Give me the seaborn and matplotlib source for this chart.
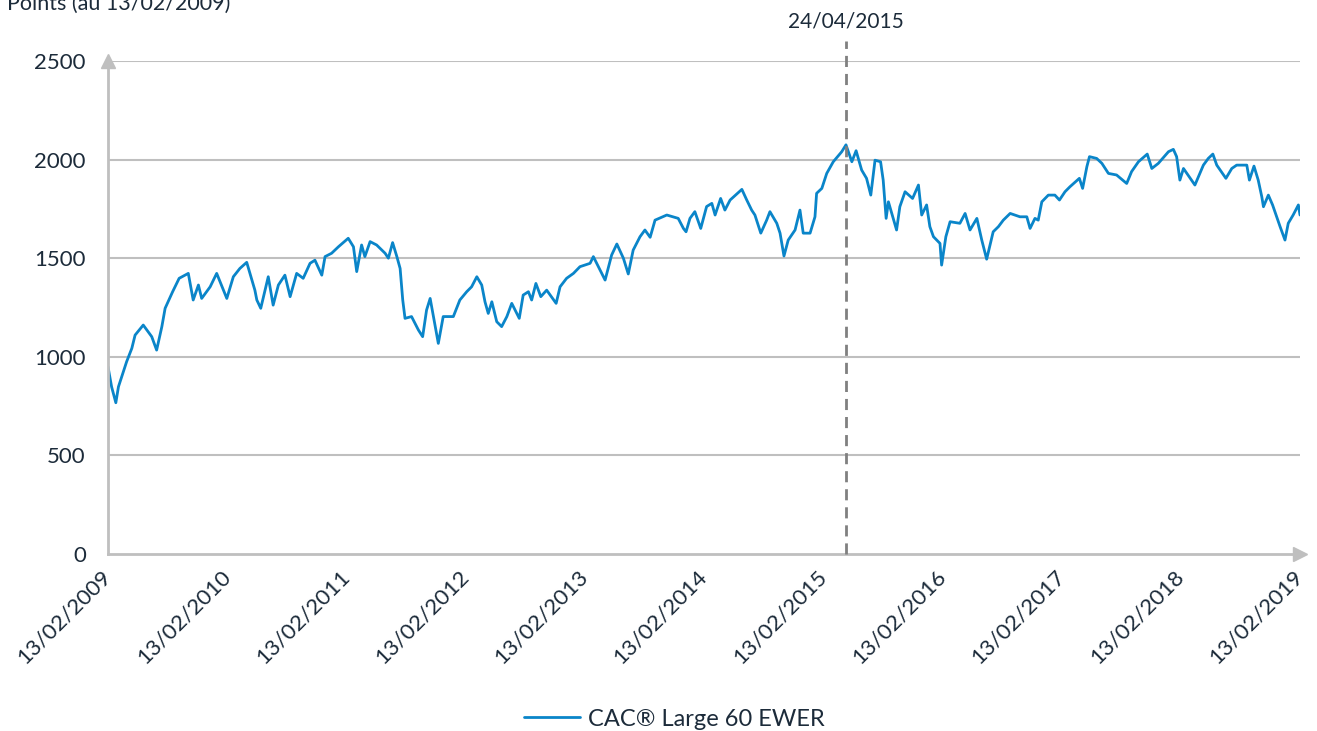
import numpy as np
import pandas as pd
import matplotlib.pyplot as plt
import matplotlib.dates as mdates
import seaborn as sns

# valeurs (points de l'indice, base 13/02/2009)
dates = ["2009-02-13", "2009-02-24", "2009-03-09", "2009-03-17", "2009-03-27", "2009-04-11",
         "2009-04-27", "2009-05-07", "2009-06-01", "2009-06-27", "2009-07-12", "2009-07-28",
         "2009-08-07", "2009-08-30", "2009-09-19", "2009-10-17", "2009-11-01", "2009-11-17",
         "2009-11-27", "2009-12-23", "2010-01-12", "2010-02-12", "2010-03-04", "2010-03-24",
         "2010-04-14", "2010-05-09", "2010-05-15", "2010-05-27", "2010-06-19", "2010-07-04",
         "2010-07-20", "2010-08-09", "2010-08-25", "2010-09-14", "2010-10-04", "2010-10-25",
         "2010-11-09", "2010-11-30", "2010-12-10", "2010-12-30", "2011-01-20", "2011-02-19",
         "2011-03-07", "2011-03-17", "2011-04-01", "2011-04-11", "2011-04-27", "2011-05-17",
         "2011-06-12", "2011-06-22", "2011-07-05", "2011-07-18", "2011-07-28", "2011-08-05",
         "2011-08-12", "2011-09-01", "2011-09-22", "2011-10-05", "2011-10-17", "2011-10-28",
         "2011-11-22", "2011-12-07", "2012-01-07", "2012-01-27", "2012-02-17", "2012-03-03",
         "2012-03-19", "2012-04-03", "2012-04-13", "2012-04-23", "2012-05-04", "2012-05-19",
         "2012-06-03", "2012-06-19", "2012-07-04", "2012-07-27", "2012-08-08", "2012-08-24",
         "2012-09-03", "2012-09-16", "2012-10-01", "2012-10-19", "2012-11-17", "2012-11-29",
         "2012-12-19", "2013-01-09", "2013-01-29", "2013-03-01", "2013-03-11", "2013-04-16",
         "2013-05-06", "2013-05-22", "2013-06-11", "2013-06-26", "2013-07-11", "2013-08-01",
         "2013-08-16", "2013-09-01", "2013-09-16", "2013-10-22", "2013-11-26", "2013-12-12",
         "2013-12-20", "2014-01-01", "2014-01-16", "2014-02-03", "2014-02-21", "2014-03-09",
         "2014-03-19", "2014-04-05", "2014-04-18", "2014-05-04", "2014-06-09", "2014-06-24",
         "2014-07-09", "2014-07-19", "2014-08-06", "2014-08-24", "2014-09-03", "2014-09-24",
         "2014-10-04", "2014-10-16", "2014-10-29", "2014-11-19", "2014-12-04", "2014-12-14",
         "2015-01-04", "2015-01-19", "2015-01-24", "2015-02-09", "2015-02-24", "2015-03-16",
         "2015-04-11", "2015-04-24", "2015-05-12", "2015-05-25", "2015-06-11", "2015-06-26",
         "2015-07-09", "2015-07-22", "2015-08-08", "2015-08-16", "2015-08-25", "2015-09-01",
         "2015-09-26", "2015-10-06", "2015-10-22", "2015-11-14", "2015-12-02", "2015-12-12",
         "2015-12-27", "2016-01-06", "2016-01-17", "2016-02-06", "2016-02-11", "2016-02-24",
         "2016-03-08", "2016-04-07", "2016-04-23", "2016-05-08", "2016-05-29", "2016-06-13",
         "2016-06-28", "2016-07-18", "2016-08-03", "2016-08-18", "2016-09-08", "2016-10-08",
         "2016-10-29", "2016-11-08", "2016-11-23", "2016-12-03", "2016-12-14", "2017-01-03",
         "2017-01-23", "2017-02-06", "2017-02-23", "2017-03-10", "2017-04-08", "2017-04-18",
         "2017-05-01", "2017-05-09", "2017-05-31", "2017-06-16", "2017-07-06", "2017-07-31",
         "2017-08-31", "2017-09-15", "2017-10-06", "2017-11-02", "2017-11-16", "2017-12-06",
         "2018-01-06", "2018-01-21", "2018-01-31", "2018-02-10", "2018-02-21", "2018-03-28",
         "2018-04-23", "2018-05-08", "2018-05-22", "2018-06-03", "2018-07-01", "2018-07-19",
         "2018-08-03", "2018-09-03", "2018-09-11", "2018-09-25", "2018-10-08", "2018-10-19",
         "2018-10-24", "2018-11-08", "2018-11-21", "2018-12-14", "2018-12-29", "2019-01-08",
         "2019-01-23", "2019-02-08", "2019-02-13"]
points = [950, 848, 767, 848, 899, 975, 1043, 1110, 1161, 1102, 1034, 1153,
          1246, 1330, 1398, 1423, 1288, 1364, 1296, 1355, 1423, 1296, 1406, 1448,
          1479, 1338, 1288, 1246, 1406, 1262, 1364, 1414, 1305, 1423, 1398, 1474,
          1490, 1414, 1508, 1525, 1558, 1601, 1558, 1432, 1567, 1508, 1584, 1567,
          1525, 1500, 1579, 1508, 1448, 1288, 1195, 1204, 1136, 1102, 1237, 1296,
          1068, 1204, 1204, 1288, 1330, 1355, 1406, 1364, 1279, 1220, 1279, 1178,
          1153, 1204, 1271, 1195, 1313, 1330, 1288, 1372, 1305, 1338, 1271, 1355,
          1398, 1423, 1457, 1474, 1508, 1389, 1516, 1572, 1500, 1420, 1541, 1609,
          1643, 1606, 1693, 1719, 1702, 1651, 1634, 1702, 1736, 1651, 1762, 1778,
          1719, 1803, 1744, 1795, 1849, 1795, 1744, 1719, 1627, 1693, 1736, 1677,
          1627, 1511, 1592, 1643, 1744, 1627, 1627, 1710, 1829, 1854, 1930, 1989,
          2040, 2075, 1989, 2045, 1947, 1905, 1820, 1997, 1989, 1896, 1702, 1786,
          1643, 1761, 1837, 1803, 1871, 1719, 1770, 1660, 1609, 1575, 1465, 1609,
          1685, 1677, 1727, 1643, 1702, 1592, 1495, 1634, 1660, 1693, 1727, 1710,
          1710, 1651, 1702, 1693, 1786, 1820, 1820, 1795, 1837, 1862, 1905, 1854,
          1964, 2015, 2006, 1981, 1930, 1922, 1879, 1939, 1989, 2028, 1955, 1981,
          2040, 2052, 2015, 1896, 1955, 1871, 1972, 2006, 2028, 1972, 1905, 1955,
          1972, 1972, 1896, 1967, 1896, 1811, 1761, 1820, 1770, 1660, 1592, 1677,
          1719, 1770, 1719]
tick_dates = ["2009-02-13", "2010-02-13", "2011-02-13", "2012-02-13", "2013-02-13", "2014-02-13",
              "2015-02-13", "2016-02-13", "2017-02-13", "2018-02-13", "2019-02-13"]
yticks = [0, 500, 1000, 1500, 2000, 2500]
event_date = "2015-04-24"
series_name = "CAC® Large 60 EWER"

df = pd.DataFrame({"date": pd.to_datetime(dates), "points": points})

sns.set_style("white")
plt.rcParams["font.family"] = ["Lato", "DejaVu Sans"]
txt = "#1c2b3a"
grey = "#bfbfbf"

fig = plt.figure(figsize=(13.17, 7.31), dpi=100)
ax = fig.add_axes([108 / 1317, 1 - 554 / 731, 1192 / 1317, 493 / 731])

sns.lineplot(data=df, x="date", y="points", ax=ax, color="#0a85c9", linewidth=2.0,
             label=series_name, legend=False)

x0, x1 = pd.Timestamp(tick_dates[0]), pd.Timestamp(tick_dates[-1])
ax.set_xlim(x0, x1)
ax.set_ylim(0, 2500)
ax.set_yticks(yticks)
ax.set_xticks(pd.to_datetime(tick_dates))
ax.xaxis.set_major_formatter(mdates.DateFormatter("%d/%m/%Y"))
ax.set_xlabel("")
ax.set_ylabel("")

for v in yticks[1:]:
    ax.axhline(v, color=grey, lw=1.5, zorder=0)

for s in ["top", "right"]:
    ax.spines[s].set_visible(False)
for s in ["left", "bottom"]:
    ax.spines[s].set_color(grey)
    ax.spines[s].set_linewidth(2)

ax.tick_params(axis="both", colors=grey, length=6, width=1.5, labelcolor=txt)
ax.tick_params(axis="y", pad=10, labelsize=16)
ax.tick_params(axis="x", pad=8, labelsize=16)
plt.setp(ax.get_xticklabels(), rotation=45, ha="right", va="center", rotation_mode="anchor")

# fleches au bout des axes
ax.plot([1], [0], marker=">", ms=10, color=grey, transform=ax.transAxes, clip_on=False)
ax.plot([0], [1], marker="^", ms=10, color=grey, transform=ax.transAxes, clip_on=False)

# date de l'evenement
ev = pd.Timestamp(event_date)
ax.plot([ev, ev], [0, 2600], color="#808080", lw=2, ls=(0, (4, 2.5)), clip_on=False, zorder=3)
ax.text(ev, 2700, "24/04/2015", ha="center", va="center", fontsize=15, color=txt)

fig.text(0.005, 1 - 10 / 731, "Points (au 13/02/2009)", ha="left", va="baseline",
         fontsize=15.5, color=txt)

h, l = ax.get_legend_handles_labels()
fig.legend(h, l, loc="center", bbox_to_anchor=(674 / 1317, 1 - 719 / 731), frameon=False,
           fontsize=17, handlelength=2.4, handletextpad=0.3, labelcolor=txt)

plt.savefig("out.png", dpi=100)
